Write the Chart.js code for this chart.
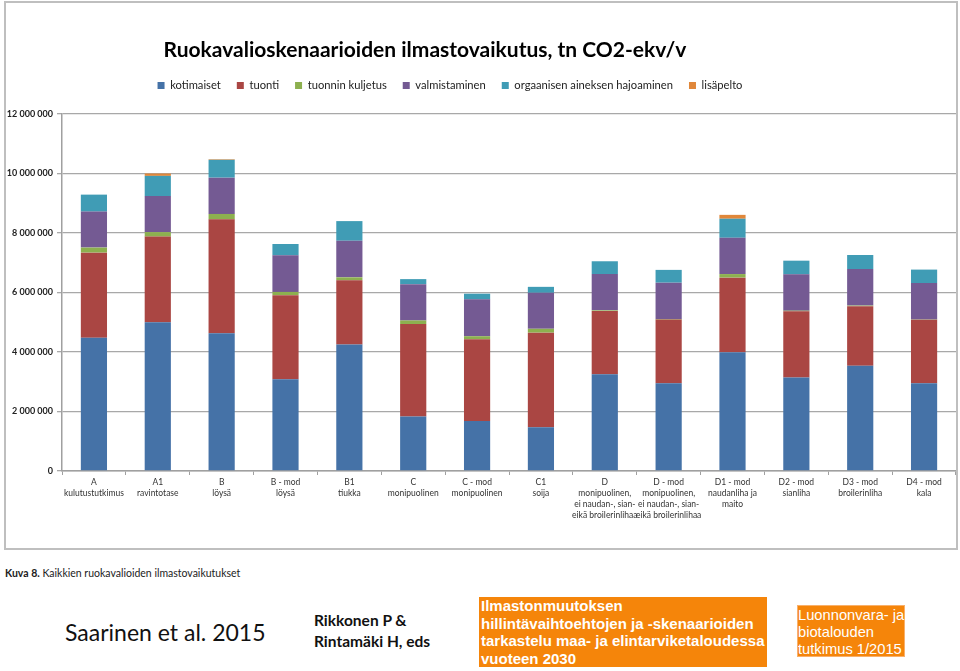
<!DOCTYPE html>
<html>
<head>
<meta charset="utf-8">
<script src="https://cdn.jsdelivr.net/npm/chart.js@4"></script>
<style>
  body { margin: 0; background: #fff; width: 960px; height: 671px; position: relative; overflow: hidden; font-family: Lato, sans-serif; }
  #frame { position: absolute; left: 4px; top: 1px; width: 954px; height: 549px; border: 2px solid #bfbfbf; box-sizing: border-box; overflow: hidden; }
  #chart { position: absolute; left: -112px; top: 0; }
  .caption { position: absolute; left: 5px; top: 567px; font-size: 10.5px; color: #222; }
  .author { position: absolute; left: 65px; top: 618px; font-size: 23px; color: #111; }
  .eds { position: absolute; left: 314px; top: 610px; font-size: 15.5px; font-weight: bold; line-height: 21px; color: #111; }
  .box1 { position: absolute; left: 479px; top: 597px; width: 288px; height: 70px; background: #f5850a; }
  .box1 div { color: #fff; font-family: "Liberation Sans", Arial, sans-serif; font-weight: bold; font-size: 15px; line-height: 17.5px; white-space: nowrap; margin-left: 2px; }
  .box2 { position: absolute; left: 797px; top: 605px; width: 108px; height: 52px; background: #f5850a; border: 1px solid #f9b06a; box-sizing: border-box; }
  .box2 div { color: #fff; font-family: "Liberation Sans", Arial, sans-serif; font-size: 15px; line-height: 17px; white-space: nowrap; transform: scaleX(0.98); transform-origin: left top; margin-left: 0px; }
</style>
</head>
<body>
<div id="frame">
  <canvas id="chart" width="1062" height="545"></canvas>
</div>
<div class="caption"><b>Kuva 8.</b> Kaikkien ruokavalioiden ilmastovaikutukset</div>
<div class="author">Saarinen et al. 2015</div>
<div class="eds">Rikkonen P &amp;<br>Rintamäki H, eds</div>
<div class="box1"><div>Ilmastonmuutoksen<br>hillintävaihtoehtojen ja -skenaarioiden<br>tarkastelu maa- ja elintarviketaloudessa<br>vuoteen 2030</div></div>
<div class="box2"><div>Luonnonvara- ja<br>biotalouden<br>tutkimus 1/2015</div></div>

<script>
var skenaariot = [
    ['A', 'kulutustutkimus'],
    ['A1', 'ravintotase'],
    ['B', 'löysä'],
    ['B - mod', 'löysä'],
    ['B1', 'tiukka'],
    ['C', 'monipuolinen'],
    ['C - mod', 'monipuolinen'],
    ['C1', 'soija'],
    ['D', 'monipuolinen,', 'ei naudan-, sian-', 'eikä broilerinlihaa'],
    ['D - mod', 'monipuolinen,', 'ei naudan-, sian-', 'eikä broilerinlihaa'],
    ['D1 - mod', 'naudanliha ja', 'maito'],
    ['D2 - mod', 'sianliha'],
    ['D3 - mod', 'broilerinliha'],
    ['D4 - mod', 'kala']
];

// tn CO2-ekv/v, luettu kuvasta
var kotimaiset    = [4480000, 5000000, 4630000, 3080000, 4250000, 1830000, 1680000, 1470000, 3250000, 2950000, 3990000, 3140000, 3540000, 2950000];
var tuonti        = [2860000, 2880000, 3830000, 2830000, 2160000, 3110000, 2750000, 3180000, 2130000, 2140000, 2510000, 2230000, 2000000, 2130000];
var tuonninKuljetus = [170000, 150000, 180000, 110000, 100000, 120000, 100000, 130000, 20000, 20000, 120000, 20000, 20000, 10000];
var valmistaminen = [1210000, 1210000, 1220000, 1230000, 1230000, 1220000, 1240000, 1210000, 1220000, 1220000, 1220000, 1220000, 1230000, 1230000];
var hajoaminen    = [570000, 680000, 600000, 380000, 660000, 170000, 190000, 200000, 430000, 430000, 640000, 460000, 470000, 450000];
var lisapelto     = [0, 80000, 20000, -50000, 0, -50000, -50000, -50000, -50000, -50000, 130000, -50000, -50000, -50000];

var yTicks = [0, 2000000, 4000000, 6000000, 8000000, 10000000, 12000000];

var sarjat = [
    { label: 'kotimaiset', data: kotimaiset, color: '#4572A7' },
    { label: 'tuonti', data: tuonti, color: '#AA4643' },
    { label: 'tuonnin kuljetus', data: tuonninKuljetus, color: '#8DB04F' },
    { label: 'valmistaminen', data: valmistaminen, color: '#745A93' },
    { label: 'orgaanisen aineksen hajoaminen', data: hajoaminen, color: '#409CB5' },
    { label: 'lisäpelto', data: lisapelto, color: '#E0873A' }
];

function erotin(v) {
    return String(v).replace(/\B(?=(\d{3})+(?!\d))/g, ' ');
}

// siirtää selitettä hieman oikealle ja ylös kuten alkuperäisessä
var selitteenSiirto = {
    id: 'selitteenSiirto',
    afterLayout: function(chart) {
        chart.legend.left += 25;
        chart.legend.right += 25;
        chart.legend.top -= 13;
        chart.legend.bottom -= 13;
    }
};

var ctx = document.getElementById('chart').getContext('2d');
var chart = new Chart(ctx, {
    type: 'bar',
    data: {
        labels: skenaariot,
        datasets: sarjat.map(function(s) {
            return {
                label: s.label,
                data: s.data,
                backgroundColor: s.color,
                borderWidth: 0,
                barPercentage: 0.41,
                categoryPercentage: 1.0
            };
        })
    },
    options: {
        responsive: false,
        animation: false,
        devicePixelRatio: 1,
        layout: { padding: 0 },
        scales: {
            x: {
                stacked: true,
                afterFit: function(scale) { scale.height = 77; },
                grid: { drawOnChartArea: false, drawTicks: true, tickLength: 4, color: '#a0a0a0' },
                border: { color: '#a0a0a0', width: 1.5 },
                ticks: {
                    autoSkip: false, maxRotation: 0, minRotation: 0, padding: 2,
                    color: '#333',
                    font: { family: 'Lato', size: 8.5, lineHeight: 1.3 }
                }
            },
            y: {
                stacked: true,
                min: 0,
                max: 12000000,
                afterFit: function(scale) { scale.width = 168; scale.paddingTop = 111; },
                afterBuildTicks: function(scale) {
                    scale.ticks = yTicks.map(function(v) { return { value: v }; });
                },
                grid: { color: '#a8a8a8', lineWidth: 1.3, tickLength: 5 },
                border: { color: '#a0a0a0', width: 1.5 },
                ticks: {
                    padding: 4,
                    color: '#222',
                    font: { family: 'Lato', size: 9, weight: 'bold' },
                    callback: function(v) { return erotin(v); }
                }
            }
        },
        plugins: {
            title: {
                display: true,
                text: 'Ruokavalioskenaarioiden ilmastovaikutus, tn CO2-ekv/v',
                color: '#000',
                font: { family: 'Lato', size: 21, weight: 'bold' },
                padding: { top: 10, bottom: 14 }
            },
            legend: {
                position: 'top',
                labels: {
                    boxWidth: 7,
                    boxHeight: 7,
                    padding: 16,
                    color: '#222',
                    font: { family: 'Lato', size: 11.2 }
                }
            },
            tooltip: {
                callbacks: {
                    label: function(tooltipItem) {
                        return tooltipItem.dataset.label + ': ' + erotin(tooltipItem.raw);
                    }
                }
            }
        }
    },
    plugins: [selitteenSiirto]
});
</script>
</body>
</html>
